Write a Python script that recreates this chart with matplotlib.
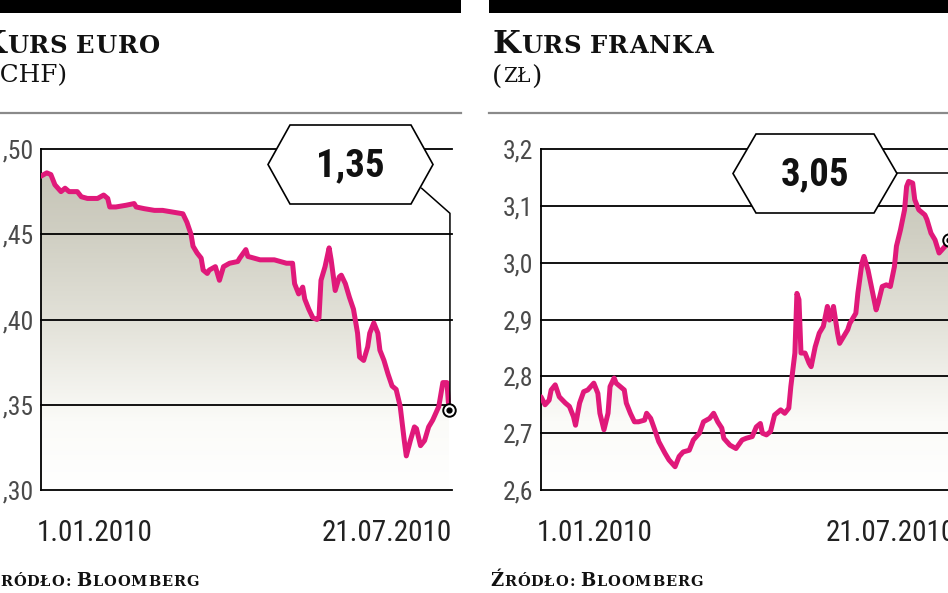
import matplotlib
matplotlib.use("Agg")
import matplotlib.pyplot as plt
import numpy as np
from matplotlib import font_manager as fm
from matplotlib.colors import LinearSegmentedColormap
from matplotlib.path import Path
from matplotlib.patches import Polygon, Rectangle
from matplotlib.lines import Line2D
from matplotlib.transforms import IdentityTransform

# ---------------- data (days since 1.01.2010) ----------------
eur_days = [0, 3, 5, 7, 10, 12, 14, 18, 20, 23, 28, 31, 33, 34, 37, 42, 46, 47, 51, 56,
            60, 65, 70, 72, 74, 75, 77, 79, 80, 82, 83, 86, 88, 90, 93, 97, 98, 101, 102, 105,
            108, 111, 115, 118, 121, 124, 125, 127, 129, 130, 132, 134, 136, 137, 138, 140, 142, 143, 145, 147,
            148, 150, 152, 154, 156, 157, 159, 161, 162, 164, 166, 167, 169, 171, 173, 175, 177, 179, 180, 182,
            184, 185, 187, 189, 191, 193, 196, 198, 200, 201]
eur_chf = [1.484, 1.486, 1.485, 1.479, 1.475, 1.477, 1.475, 1.475, 1.472, 1.471, 1.471, 1.473, 1.471, 1.466, 1.466, 1.467, 1.468, 1.466, 1.465, 1.464,
           1.464, 1.463, 1.462, 1.457, 1.450, 1.443, 1.439, 1.436, 1.429, 1.427, 1.429, 1.431, 1.423, 1.431, 1.433, 1.434, 1.436, 1.441, 1.437, 1.436,
           1.435, 1.435, 1.435, 1.434, 1.433, 1.433, 1.421, 1.415, 1.419, 1.412, 1.406, 1.401, 1.400, 1.401, 1.423, 1.431, 1.442, 1.435, 1.417, 1.425,
           1.426, 1.421, 1.413, 1.406, 1.392, 1.378, 1.376, 1.384, 1.392, 1.398, 1.392, 1.382, 1.376, 1.368, 1.361, 1.359, 1.349, 1.329, 1.320, 1.329,
           1.337, 1.336, 1.326, 1.329, 1.337, 1.341, 1.349, 1.363, 1.363, 1.347]

chf_days = [0, 2, 4, 5, 7, 9, 12, 14, 16, 17, 19, 21, 23, 26, 28, 29, 31, 33, 34, 36,
            37, 39, 41, 42, 44, 46, 48, 51, 52, 54, 56, 58, 61, 63, 66, 68, 70, 73, 75, 78,
            80, 83, 85, 87, 89, 90, 93, 96, 99, 101, 104, 106, 108, 109, 111, 113, 115, 118, 120, 122,
            123, 125, 126, 127, 128, 130, 132, 133, 135, 137, 139, 141, 142, 144, 146, 147, 149, 151, 152, 155,
            156, 158, 159, 161, 163, 165, 166, 168, 170, 172, 174, 175, 177, 179, 180, 181, 183, 184, 186, 189,
            190, 192, 194, 196, 199, 201]
chf_pln = [2.764, 2.750, 2.758, 2.776, 2.785, 2.764, 2.753, 2.747, 2.729, 2.714, 2.753, 2.773, 2.776, 2.788, 2.770, 2.735, 2.706, 2.735, 2.782, 2.797,
           2.788, 2.782, 2.776, 2.753, 2.735, 2.720, 2.720, 2.723, 2.735, 2.726, 2.706, 2.685, 2.665, 2.653, 2.641, 2.659, 2.667, 2.670, 2.688, 2.700,
           2.720, 2.726, 2.735, 2.720, 2.709, 2.691, 2.679, 2.673, 2.688, 2.691, 2.694, 2.711, 2.717, 2.700, 2.697, 2.703, 2.732, 2.741, 2.735, 2.744,
           2.782, 2.841, 2.946, 2.935, 2.841, 2.841, 2.823, 2.817, 2.852, 2.876, 2.888, 2.923, 2.899, 2.923, 2.876, 2.858, 2.870, 2.882, 2.893, 2.911,
           2.946, 2.999, 3.011, 2.987, 2.952, 2.917, 2.929, 2.958, 2.961, 2.958, 2.993, 3.029, 3.058, 3.093, 3.134, 3.143, 3.140, 3.111, 3.093, 3.084,
           3.076, 3.052, 3.040, 3.017, 3.029, 3.040]

eur_ticks = [1.30, 1.35, 1.40, 1.45, 1.50]
eur_tick_labels = ["1,30", "1,35", "1,40", "1,45", "1,50"]
chf_ticks = [2.6, 2.7, 2.8, 2.9, 3.0, 3.1, 3.2]
chf_tick_labels = ["2,6", "2,7", "2,8", "2,9", "3,0", "3,1", "3,2"]
date_labels = ["1.01.2010", "21.07.2010"]
eur_last_label = "1,35"
chf_last_label = "3,05"
eur_title = ("Kurs euro", "(CHF)")
chf_title = ("Kurs franka", "zł")
source = "Źródło: Bloomberg"

# ---------------- fonts: look for a condensed sans ----------------
CONDENSED = {"condensed", "semi-condensed", "extra-condensed", "ultra-condensed"}


def _w(f):
    w = f.weight
    if isinstance(w, str):
        w = fm.weight_dict.get(w, 400)
    return w


def find_narrow(bold):
    prefs = ["Liberation Sans Narrow", "Roboto Condensed", "DejaVu Sans", "Open Sans Condensed",
             "Noto Sans", "Open Sans", "Lato", "Inter"]
    found = []
    for f in fm.fontManager.ttflist:
        narrow = ("Narrow" in f.name or "Condensed" in f.name or f.stretch in CONDENSED)
        if not narrow or f.style != "normal":
            continue
        if "Serif" in f.name or "Mono" in f.name:
            continue
        w = _w(f)
        if bold and w < 600:
            continue
        if not bold and not (350 <= w <= 500):
            continue
        rank = next((i for i, p in enumerate(prefs) if f.name.startswith(p)), 99)
        found.append((rank, abs(w - (700 if bold else 400)), f.fname))
    if found:
        found.sort()
        return fm.FontProperties(fname=found[0][2]), True
    return fm.FontProperties(family=["Liberation Sans", "DejaVu Sans"],
                             weight="bold" if bold else "normal"), False


NARROW_REG, have_reg = find_narrow(False)
NARROW_BOLD, have_bold = find_narrow(True)
SCALE_REG = 1.0 if have_reg else 0.9
SCALE_BOLD = 1.0 if have_bold else 0.85

# ---------------- style ----------------
W, H = 948, 593
MAGENTA = "#e0197a"
SERIF = ["DejaVu Serif"]
XMAX = 202.5

fig = plt.figure(figsize=(W / 100, H / 100), dpi=100)
renderer = fig.canvas.get_renderer()


def F(x, y):
    return (x / W, 1 - y / H)


def fp(base, size):
    p = base.copy()
    p.set_size(size)
    return p


cmap = LinearSegmentedColormap.from_list(
    "fade", [(0.0, "#ffffff"), (0.2, "#fbfbf8"), (0.5, "#e2e1d8"), (0.75, "#d0cfc3"), (1.0, "#c3c1b3")])


def panel(left_px, days, vals, ylim, ticks, tick_labels):
    ax = fig.add_axes([left_px / W, 1 - 490 / H, 411.3 / W, 341 / H])
    grad = np.linspace(0, 1, 256).reshape(-1, 1)
    im = ax.imshow(grad, cmap=cmap, origin="lower", extent=(0, XMAX, ylim[0], ylim[1]),
                   aspect="auto", zorder=1, interpolation="bilinear")
    verts = [(days[0], ylim[0])] + list(zip(days, vals)) + [(days[-1], ylim[0])]
    im.set_clip_path(Path(verts), ax.transData)
    ax.set_xlim(0, XMAX)
    ax.set_ylim(*ylim)
    ax.patch.set_alpha(0)
    for s in ["top", "right", "bottom"]:
        ax.spines[s].set_visible(False)
    ax.spines["left"].set_linewidth(1.3)
    ax.spines["left"].set_color("black")
    ax.set_xticks([])
    ax.set_yticks(ticks)
    ax.set_yticklabels(tick_labels, fontproperties=fp(NARROW_REG, 18.5 * SCALE_REG), color="#4a4a4a")
    ax.tick_params(axis="y", length=0, pad=5.5)
    for t in ticks:
        ax.axhline(t, color="black", lw=1.3, zorder=2, clip_on=False)
    ax.plot(days, vals, color=MAGENTA, lw=3.6, zorder=4, solid_joinstyle="round",
            solid_capstyle="round")
    ax.plot(days[-1], vals[-1], "o", ms=9, mfc="white", mec="black", mew=1.4, zorder=6, clip_on=False)
    ax.plot(days[-1], vals[-1], "o", ms=3.5, color="black", zorder=7, clip_on=False)
    return ax


ax1 = panel(40.7, eur_days, eur_chf, (1.30, 1.50), eur_ticks, eur_tick_labels)
ax2 = panel(541, chf_days, chf_pln, (2.6, 3.2), chf_ticks, chf_tick_labels)

# top black bars and grey separators
for x0, x1 in [(0, 461), (489, 960)]:
    fig.add_artist(Rectangle(F(x0, 13), (x1 - x0) / W, 13 / H, transform=fig.transFigure,
                             facecolor="black", edgecolor="none", zorder=5))
    fig.add_artist(Line2D([x0 / W, x1 / W], [1 - 113 / H] * 2, transform=fig.transFigure,
                          color="#8a8a8a", lw=1.6, zorder=5))


def smallcaps(x, y, text, big, small, weight="bold"):
    for ch in text:
        if ch == " ":
            x += small * 100 / 72 * 0.32
            continue
        size = big if (ch.isupper() or ch in "()") else small
        t = fig.text(*F(x, y), ch.upper(), fontsize=size, family=SERIF, fontweight=weight,
                     ha="left", va="baseline", color="#111111", zorder=8)
        bb = t.get_window_extent(renderer)
        x += bb.width + 0.9


# titles
smallcaps(-22, 53, eur_title[0], 23, 17.5)
fig.text(*F(-10, 82), eur_title[1], fontsize=17.8, family=SERIF, ha="left", va="baseline", color="#111111")
smallcaps(492, 53, chf_title[0], 23, 17.5)
# "(zł)"
t = fig.text(*F(492, 85), "(", fontsize=19, family=SERIF, ha="left", va="baseline", color="#111111")
xx = 492 + t.get_window_extent(renderer).width + 0.5
t = fig.text(*F(xx, 82), chf_title[1].upper(), fontsize=14.5, family=SERIF, ha="left", va="baseline", color="#111111")
xx += t.get_window_extent(renderer).width + 0.5
fig.text(*F(xx, 85), ")", fontsize=19, family=SERIF, ha="left", va="baseline", color="#111111")

# source
smallcaps(-14, 586, source, 13, 10.5)
smallcaps(490, 586, source, 13, 10.5)

# date labels
for cx, lab in [(95, date_labels[0]), (387, date_labels[1]), (595, date_labels[0]), (891, date_labels[1])]:
    fig.text(*F(cx, 541), lab, fontproperties=fp(NARROW_REG, 21 * SCALE_REG), ha="center",
             va="baseline", color="#222222")


# hexagon value boxes with leader lines
def hexbox(xl, xr, yt, yb, inset, label):
    ym = (yt + yb) / 2
    pts = [F(xl, ym), F(xl + inset, yt), F(xr - inset, yt), F(xr, ym), F(xr - inset, yb), F(xl + inset, yb)]
    fig.add_artist(Polygon(pts, closed=True, transform=fig.transFigure, facecolor="white",
                           edgecolor="black", lw=1.2, zorder=10))
    fig.text(*F((xl + xr) / 2, ym + 1), label, fontproperties=fp(NARROW_BOLD, 28 * SCALE_BOLD),
             ha="center", va="center", color="#111111", zorder=11)


ex, ey = ax1.transData.transform((eur_days[-1], eur_chf[-1]))
fig.add_artist(Line2D([421.7, ex + 1, ex + 1], [H - 188.3, H - 213.3, ey + 6], transform=IdentityTransform(),
                      color="black", lw=1.1, zorder=9))
hexbox(268, 433, 125, 204, 22, eur_last_label)

ex, ey = ax2.transData.transform((chf_days[-1], chf_pln[-1]))
fig.add_artist(Line2D([890, ex + 3, ex + 3], [H - 173.3, H - 173.3, ey + 6], transform=IdentityTransform(),
                      color="black", lw=1.1, zorder=9))
hexbox(733, 897, 134, 213, 23, chf_last_label)

fig.savefig("out.png", dpi=100)
